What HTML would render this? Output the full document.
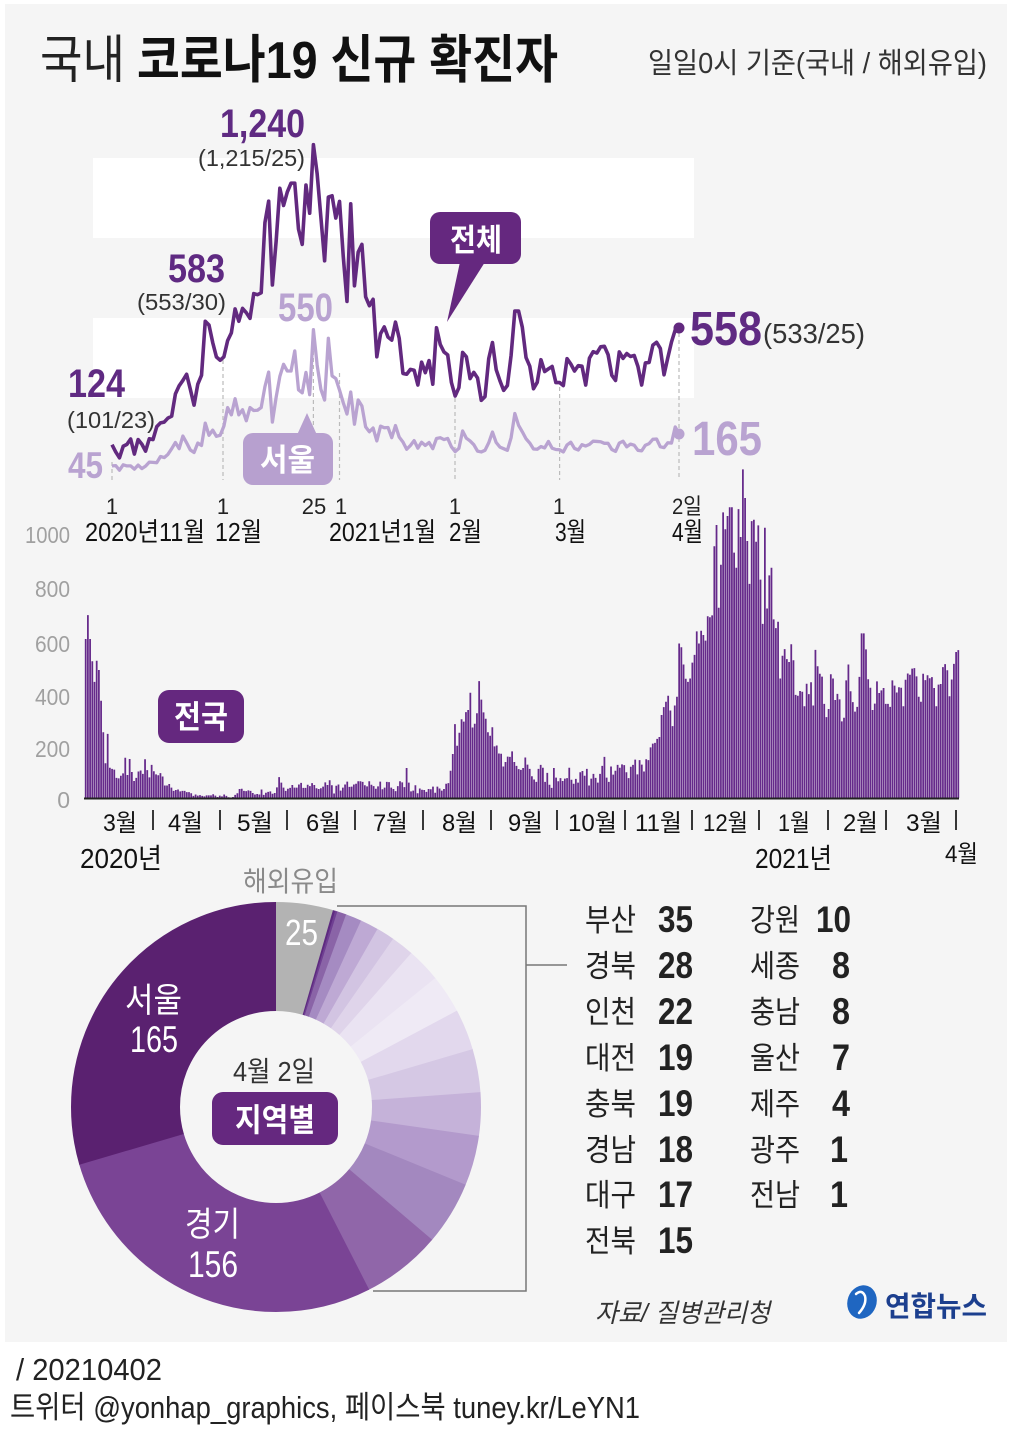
<!DOCTYPE html>
<html><head><meta charset="utf-8">
<style>
html,body{margin:0;padding:0;background:#fff;}
svg{display:block;}
text{font-family:"Liberation Sans","Noto Sans CJK KR",sans-serif;}
</style></head>
<body>
<svg width="1010" height="1443" viewBox="0 0 1010 1443" xmlns="http://www.w3.org/2000/svg">
<rect width="1010" height="1443" fill="#fff"/>
<rect x="5" y="4" width="1002" height="1338" fill="#f5f5f5"/>

<!-- Title -->
<text x="40" y="78" font-size="52" fill="#222" textLength="85" lengthAdjust="spacingAndGlyphs">국내</text>
<text x="137" y="78" font-size="52" font-weight="bold" fill="#111" textLength="421" lengthAdjust="spacingAndGlyphs">코로나19 신규 확진자</text>
<text x="648" y="73" font-size="29" fill="#333" textLength="339" lengthAdjust="spacingAndGlyphs">일일0시 기준(국내 / 해외유입)</text>

<!-- top chart bands -->
<rect x="93" y="158" width="601" height="80" fill="#fff"/>
<rect x="93" y="318" width="601" height="80" fill="#fff"/>

<!-- dashed guides -->
<g stroke="#bbb" stroke-width="1.2" stroke-dasharray="4 3">
<line x1="112" y1="462" x2="112" y2="480"/>
<line x1="223" y1="360" x2="223" y2="480"/>
<line x1="313.4" y1="330" x2="313.4" y2="480"/>
<line x1="339.5" y1="373" x2="339.5" y2="480"/>
<line x1="455" y1="398" x2="455" y2="480"/>
<line x1="559.6" y1="387" x2="559.6" y2="480"/>
<line x1="679" y1="333" x2="679" y2="480"/>
</g>

<!-- lines -->
<g transform="translate(112 478) scale(3.73 -0.2688)">
<polyline fill="none" stroke="#b9a3d1" stroke-width="3.3" stroke-linejoin="round" vector-effect="non-scaling-stroke" points="0,45 1,46 2,29 3,49 4,45 5,45 6,33 7,48 8,35 9,44 10,59 11,58 12,57 13,80 14,76 15,88 16,109 17,132 18,109 19,156 20,131 21,104 22,95 23,130 24,121 25,204 26,159 27,178 28,155 29,159 30,193 31,262 32,235 33,295 34,235 35,254 36,213 37,262 38,251 39,252 40,262 41,340 42,394 43,208 44,300 45,378 46,423 47,398 48,398 49,473 50,328 51,317 52,393 53,310 54,552 55,420 56,330 57,290 58,520 59,380 60,370 61,327 62,280 63,238 64,320 65,200 66,290 67,268 68,190 69,172 70,186 71,138 72,193 73,187 74,188 75,150 76,195 77,152 78,134 79,107 80,121 81,139 82,111 83,133 84,121 85,132 86,109 87,147 88,150 89,143 90,147 91,116 92,98 93,110 94,175 95,148 96,138 97,124 98,100 99,97 100,103 101,131 102,171 103,132 104,115 105,109 106,103 107,150 108,240 109,196 110,172 111,146 112,130 113,108 114,107 115,117 116,112 117,136 118,111 119,106 120,105 121,97 122,123 123,133 124,110 125,104 126,124 127,119 128,125 129,137 130,136 131,135 132,129 133,129 134,106 135,99 136,130 137,137 138,116 139,126 140,122 141,103 142,101 143,122 144,128 145,144 146,145 147,116 148,113 149,131 150,130 151,190 152,165"/>
<polyline fill="none" stroke="#62297f" stroke-width="3.6" stroke-linejoin="round" vector-effect="non-scaling-stroke" points="0,124 1,97 2,75 3,118 4,125 5,145 6,89 7,143 8,126 9,100 10,146 11,143 12,191 13,205 14,208 15,223 16,230 17,313 18,343 19,363 20,386 21,330 22,271 23,349 24,382 25,583 26,569 27,504 28,450 29,438 30,451 31,511 32,540 33,629 34,583 35,631 36,615 37,594 38,686 39,682 40,689 41,950 42,1030 43,718 44,880 45,1078 46,1014 47,1064 48,1097 49,1097 50,926 51,869 52,1090 53,985 54,1240 55,1132 56,970 57,808 58,1045 59,1050 60,967 61,1029 62,824 63,657 64,1020 65,715 66,840 67,869 68,674 69,641 70,665 71,451 72,537 73,562 74,524 75,513 76,580 77,520 78,389 79,386 80,404 81,401 82,346 83,431 84,392 85,437 86,349 87,559 88,497 89,469 90,458 91,355 92,305 93,336 94,467 95,451 96,370 97,393 98,372 99,289 100,303 101,444 102,504 103,403 104,362 105,326 106,344 107,457 108,621 109,621 110,561 111,448 112,416 113,332 114,356 115,440 116,396 117,406 118,415 119,355 120,355 121,344 122,444 123,424 124,398 125,418 126,416 127,346 128,446 129,470 130,465 131,488 132,490 133,459 134,382 135,363 136,469 137,445 138,463 139,452 140,456 141,415 142,346 143,428 144,430 145,494 146,505 147,482 148,384 149,447 150,506 151,551 152,558"/>
</g>
<circle cx="679" cy="328" r="5.5" fill="#62297f"/>
<circle cx="679" cy="434" r="5.5" fill="#b9a3d1"/>

<!-- top chart labels -->
<text x="220" y="137" font-size="40" font-weight="bold" fill="#5f2a82" textLength="85" lengthAdjust="spacingAndGlyphs">1,240</text>
<text x="198" y="166" font-size="23" fill="#333" textLength="107" lengthAdjust="spacingAndGlyphs">(1,215/25)</text>
<text x="168" y="282" font-size="40" font-weight="bold" fill="#5f2a82" textLength="57" lengthAdjust="spacingAndGlyphs">583</text>
<text x="137" y="310" font-size="23" fill="#333" textLength="89" lengthAdjust="spacingAndGlyphs">(553/30)</text>
<text x="68" y="397" font-size="40" font-weight="bold" fill="#5f2a82" textLength="57" lengthAdjust="spacingAndGlyphs">124</text>
<text x="67" y="428" font-size="23" fill="#333" textLength="88" lengthAdjust="spacingAndGlyphs">(101/23)</text>
<text x="68" y="478" font-size="37" font-weight="bold" fill="#b9a3d1" textLength="35" lengthAdjust="spacingAndGlyphs">45</text>
<text x="278" y="321" font-size="40" font-weight="bold" fill="#b9a3d1" textLength="55" lengthAdjust="spacingAndGlyphs">550</text>
<text x="690" y="345" font-size="48" font-weight="bold" fill="#5f2a82" textLength="72" lengthAdjust="spacingAndGlyphs">558</text>
<text x="763" y="343" font-size="28" fill="#333" textLength="102" lengthAdjust="spacingAndGlyphs">(533/25)</text>
<text x="692" y="455" font-size="48" font-weight="bold" fill="#b9a3d1" textLength="70" lengthAdjust="spacingAndGlyphs">165</text>

<!-- badges -->
<rect x="430" y="212" width="91" height="52" rx="10" fill="#65287f"/>
<polygon points="460,262 485,262 447,322" fill="#65287f"/>
<text x="450" y="251" font-size="31" font-weight="bold" fill="#fff" textLength="52" lengthAdjust="spacingAndGlyphs">전체</text>
<rect x="243" y="433" width="90" height="52" rx="10" fill="#b7a0cf"/>
<polygon points="297,435 317,435 307,413" fill="#b7a0cf"/>
<text x="260" y="471" font-size="31" font-weight="bold" fill="#fff" textLength="55" lengthAdjust="spacingAndGlyphs">서울</text>

<!-- top ticks -->
<g font-size="22" fill="#222" text-anchor="middle">
<text x="112" y="514">1</text>
<text x="223" y="514">1</text>
<text x="314" y="514">25</text>
<text x="341" y="514">1</text>
<text x="455" y="514">1</text>
<text x="559" y="514">1</text>
</g>
<text x="672" y="514" font-size="22" fill="#222" textLength="30" lengthAdjust="spacingAndGlyphs">2일</text>
<g font-size="26" fill="#111">
<text x="85" y="541" textLength="120" lengthAdjust="spacingAndGlyphs">2020년11월</text>
<text x="215" y="541" textLength="47" lengthAdjust="spacingAndGlyphs">12월</text>
<text x="329" y="541" textLength="107" lengthAdjust="spacingAndGlyphs">2021년1월</text>
<text x="449" y="541" textLength="33" lengthAdjust="spacingAndGlyphs">2월</text>
<text x="555" y="541" textLength="31" lengthAdjust="spacingAndGlyphs">3월</text>
<text x="672" y="541" textLength="31" lengthAdjust="spacingAndGlyphs">4월</text>
</g>

<!-- bar chart y labels -->
<g font-size="23" fill="#a0a0a0" text-anchor="end">
<text x="70" y="543" textLength="45" lengthAdjust="spacingAndGlyphs">1000</text>
<text x="70" y="597" textLength="35" lengthAdjust="spacingAndGlyphs">800</text>
<text x="70" y="652" textLength="35" lengthAdjust="spacingAndGlyphs">600</text>
<text x="70" y="705" textLength="35" lengthAdjust="spacingAndGlyphs">400</text>
<text x="70" y="757" textLength="35" lengthAdjust="spacingAndGlyphs">200</text>
<text x="70" y="808">0</text>
</g>

<!-- bars -->
<g transform="translate(84.6 798) scale(2.198 -0.265)">
<path fill="none" stroke="#65298a" stroke-width="0.8" d="M0.5 0V600V0m1 0V690V0m1 0V600V0m1 0V516V0m1 0V438V0m1 0V518V0m1 0V483V0m1 0V367V0m1 0V248V0m1 0V131V0m1 0V242V0m1 0V114V0m1 0V110V0m1 0V107V0m1 0V76V0m1 0V74V0m1 0V84V0m1 0V93V0m1 0V152V0m1 0V87V0m1 0V147V0m1 0V98V0m1 0V64V0m1 0V76V0m1 0V100V0m1 0V104V0m1 0V91V0m1 0V146V0m1 0V105V0m1 0V78V0m1 0V125V0
M31.5 0V101V0m1 0V89V0m1 0V86V0m1 0V94V0m1 0V81V0m1 0V47V0m1 0V47V0m1 0V53V0m1 0V39V0m1 0V27V0m1 0V30V0m1 0V32V0m1 0V25V0m1 0V27V0m1 0V27V0m1 0V22V0m1 0V22V0m1 0V18V0m1 0V8V0m1 0V13V0m1 0V9V0m1 0V11V0m1 0V8V0m1 0V6V0m1 0V10V0m1 0V10V0m1 0V10V0m1 0V14V0m1 0V9V0m1 0V4V0
M61.5 0V9V0m1 0V6V0m1 0V13V0m1 0V8V0m1 0V3V0m1 0V2V0m1 0V4V0m1 0V12V0m1 0V18V0m1 0V34V0m1 0V35V0m1 0V27V0m1 0V26V0m1 0V29V0m1 0V27V0m1 0V19V0m1 0V13V0m1 0V15V0m1 0V13V0m1 0V32V0m1 0V12V0m1 0V20V0m1 0V23V0m1 0V25V0m1 0V16V0m1 0V19V0m1 0V40V0m1 0V79V0m1 0V58V0m1 0V39V0m1 0V27V0
M92.5 0V35V0m1 0V38V0m1 0V49V0m1 0V39V0m1 0V39V0m1 0V51V0m1 0V57V0m1 0V38V0m1 0V38V0m1 0V50V0m1 0V45V0m1 0V56V0m1 0V49V0m1 0V37V0m1 0V34V0m1 0V37V0m1 0V43V0m1 0V59V0m1 0V49V0m1 0V67V0m1 0V48V0m1 0V17V0m1 0V46V0m1 0V51V0m1 0V28V0m1 0V39V0m1 0V51V0m1 0V62V0m1 0V42V0m1 0V43V0
M122.5 0V51V0m1 0V54V0m1 0V63V0m1 0V63V0m1 0V61V0m1 0V48V0m1 0V44V0m1 0V63V0m1 0V50V0m1 0V45V0m1 0V35V0m1 0V44V0m1 0V62V0m1 0V33V0m1 0V39V0m1 0V61V0m1 0V60V0m1 0V39V0m1 0V34V0m1 0V26V0m1 0V45V0m1 0V63V0m1 0V59V0m1 0V41V0m1 0V113V0m1 0V58V0m1 0V25V0m1 0V28V0m1 0V48V0m1 0V18V0m1 0V36V0
M153.5 0V31V0m1 0V30V0m1 0V23V0m1 0V34V0m1 0V33V0m1 0V43V0m1 0V20V0m1 0V43V0m1 0V36V0m1 0V28V0m1 0V34V0m1 0V54V0m1 0V56V0m1 0V103V0m1 0V166V0m1 0V279V0m1 0V197V0m1 0V246V0m1 0V297V0m1 0V288V0m1 0V324V0m1 0V332V0m1 0V397V0m1 0V266V0m1 0V280V0m1 0V320V0m1 0V441V0m1 0V371V0m1 0V323V0m1 0V299V0m1 0V248V0
M184.5 0V235V0m1 0V267V0m1 0V195V0m1 0V198V0m1 0V168V0m1 0V167V0m1 0V119V0m1 0V136V0m1 0V156V0m1 0V155V0m1 0V176V0m1 0V136V0m1 0V121V0m1 0V109V0m1 0V106V0m1 0V113V0m1 0V153V0m1 0V126V0m1 0V110V0m1 0V82V0m1 0V70V0m1 0V61V0m1 0V110V0m1 0V125V0m1 0V114V0m1 0V61V0m1 0V95V0m1 0V50V0m1 0V38V0m1 0V113V0
M214.5 0V77V0m1 0V63V0m1 0V75V0m1 0V64V0m1 0V73V0m1 0V75V0m1 0V114V0m1 0V69V0m1 0V54V0m1 0V72V0m1 0V58V0m1 0V97V0m1 0V102V0m1 0V84V0m1 0V110V0m1 0V47V0m1 0V73V0m1 0V91V0m1 0V76V0m1 0V58V0m1 0V91V0m1 0V121V0m1 0V155V0m1 0V77V0m1 0V61V0m1 0V119V0m1 0V88V0m1 0V103V0m1 0V125V0m1 0V114V0m1 0V127V0
M245.5 0V124V0m1 0V97V0m1 0V75V0m1 0V118V0m1 0V125V0m1 0V145V0m1 0V89V0m1 0V143V0m1 0V126V0m1 0V100V0m1 0V146V0m1 0V143V0m1 0V191V0m1 0V205V0m1 0V208V0m1 0V223V0m1 0V230V0m1 0V313V0m1 0V343V0m1 0V363V0m1 0V386V0m1 0V330V0m1 0V271V0m1 0V349V0m1 0V382V0m1 0V583V0m1 0V569V0m1 0V504V0m1 0V450V0m1 0V438V0
M275.5 0V451V0m1 0V511V0m1 0V540V0m1 0V629V0m1 0V583V0m1 0V631V0m1 0V615V0m1 0V594V0m1 0V686V0m1 0V682V0m1 0V689V0m1 0V950V0m1 0V1030V0m1 0V718V0m1 0V880V0m1 0V1078V0m1 0V1014V0m1 0V1064V0m1 0V1097V0m1 0V1097V0m1 0V926V0m1 0V869V0m1 0V1090V0m1 0V985V0m1 0V1240V0m1 0V1132V0m1 0V970V0m1 0V808V0m1 0V1045V0m1 0V1050V0m1 0V967V0
M306.5 0V1029V0m1 0V824V0m1 0V657V0m1 0V1020V0m1 0V715V0m1 0V840V0m1 0V869V0m1 0V674V0m1 0V641V0m1 0V665V0m1 0V451V0m1 0V537V0m1 0V562V0m1 0V524V0m1 0V513V0m1 0V580V0m1 0V520V0m1 0V389V0m1 0V386V0m1 0V404V0m1 0V401V0m1 0V346V0m1 0V431V0m1 0V392V0m1 0V437V0m1 0V349V0m1 0V559V0m1 0V497V0m1 0V469V0m1 0V458V0m1 0V355V0
M337.5 0V305V0m1 0V336V0m1 0V467V0m1 0V451V0m1 0V370V0m1 0V393V0m1 0V372V0m1 0V289V0m1 0V303V0m1 0V444V0m1 0V504V0m1 0V403V0m1 0V362V0m1 0V326V0m1 0V344V0m1 0V457V0m1 0V621V0m1 0V621V0m1 0V561V0m1 0V448V0m1 0V416V0m1 0V332V0m1 0V356V0m1 0V440V0m1 0V396V0m1 0V406V0m1 0V415V0m1 0V355V0
M365.5 0V355V0m1 0V344V0m1 0V444V0m1 0V424V0m1 0V398V0m1 0V418V0m1 0V416V0m1 0V346V0m1 0V446V0m1 0V470V0m1 0V465V0m1 0V488V0m1 0V490V0m1 0V459V0m1 0V382V0m1 0V363V0m1 0V469V0m1 0V445V0m1 0V463V0m1 0V452V0m1 0V456V0m1 0V415V0m1 0V346V0m1 0V428V0m1 0V430V0m1 0V494V0m1 0V505V0m1 0V482V0m1 0V384V0m1 0V447V0m1 0V506V0
M396.5 0V551V0m1 0V558V0"/>
</g>
<line x1="84" y1="798.5" x2="959" y2="798.5" stroke="#222" stroke-width="2"/>

<!-- 전국 badge -->
<rect x="158" y="690" width="86" height="53" rx="11" fill="#65287f"/>
<text x="174" y="728" font-size="32" font-weight="bold" fill="#fff" textLength="54" lengthAdjust="spacingAndGlyphs">전국</text>

<!-- bar month labels -->
<g font-size="24" fill="#111">
<text x="103" y="831" textLength="34" lengthAdjust="spacingAndGlyphs">3월</text>
<text x="168" y="831" textLength="35" lengthAdjust="spacingAndGlyphs">4월</text>
<text x="237" y="831" textLength="36" lengthAdjust="spacingAndGlyphs">5월</text>
<text x="306" y="831" textLength="35" lengthAdjust="spacingAndGlyphs">6월</text>
<text x="373" y="831" textLength="35" lengthAdjust="spacingAndGlyphs">7월</text>
<text x="442" y="831" textLength="35" lengthAdjust="spacingAndGlyphs">8월</text>
<text x="508" y="831" textLength="35" lengthAdjust="spacingAndGlyphs">9월</text>
<text x="568" y="831" textLength="49" lengthAdjust="spacingAndGlyphs">10월</text>
<text x="635" y="831" textLength="47" lengthAdjust="spacingAndGlyphs">11월</text>
<text x="703" y="831" textLength="45" lengthAdjust="spacingAndGlyphs">12월</text>
<text x="778" y="831" textLength="32" lengthAdjust="spacingAndGlyphs">1월</text>
<text x="843" y="831" textLength="35" lengthAdjust="spacingAndGlyphs">2월</text>
<text x="906" y="831" textLength="36" lengthAdjust="spacingAndGlyphs">3월</text>
<text x="945" y="862" textLength="33" lengthAdjust="spacingAndGlyphs">4월</text>
</g>
<g stroke="#222" stroke-width="1.8">
<line x1="153" y1="810" x2="153" y2="830"/><line x1="220" y1="810" x2="220" y2="830"/>
<line x1="287" y1="810" x2="287" y2="830"/><line x1="355" y1="810" x2="355" y2="830"/>
<line x1="423" y1="810" x2="423" y2="830"/><line x1="491" y1="810" x2="491" y2="830"/>
<line x1="557" y1="810" x2="557" y2="830"/><line x1="625" y1="810" x2="625" y2="830"/>
<line x1="692" y1="810" x2="692" y2="830"/><line x1="759" y1="810" x2="759" y2="830"/>
<line x1="828" y1="810" x2="828" y2="830"/><line x1="886" y1="810" x2="886" y2="830"/>
<line x1="956" y1="810" x2="956" y2="830"/>
</g>
<text x="80" y="868" font-size="28" fill="#111" textLength="82" lengthAdjust="spacingAndGlyphs">2020년</text>
<text x="755" y="868" font-size="28" fill="#111" textLength="77" lengthAdjust="spacingAndGlyphs">2021년</text>

<!-- Pie -->
<text x="243" y="891" font-size="28" fill="#8a8a8a" textLength="95" lengthAdjust="spacingAndGlyphs">해외유입</text>
<g transform="rotate(-90 276 1107)" fill="none" stroke-width="109">
<circle cx="276" cy="1107" r="150.5" stroke="#b3b3b3" stroke-dasharray="42.8 2000" stroke-dashoffset="0"/>
<circle cx="276" cy="1107" r="150.5" stroke="#5e2a80" stroke-dasharray="2.1 2000" stroke-dashoffset="-42.366"/>
<circle cx="276" cy="1107" r="150.5" stroke="#6f3f92" stroke-dasharray="2.1 2000" stroke-dashoffset="-44.061"/>
<circle cx="276" cy="1107" r="150.5" stroke="#8a64a7" stroke-dasharray="7.2 2000" stroke-dashoffset="-45.756"/>
<circle cx="276" cy="1107" r="150.5" stroke="#a58bc2" stroke-dasharray="12.3 2000" stroke-dashoffset="-52.534"/>
<circle cx="276" cy="1107" r="150.5" stroke="#bea9d4" stroke-dasharray="14 2000" stroke-dashoffset="-64.397"/>
<circle cx="276" cy="1107" r="150.5" stroke="#d2c4e2" stroke-dasharray="14 2000" stroke-dashoffset="-77.954"/>
<circle cx="276" cy="1107" r="150.5" stroke="#dfd4ea" stroke-dasharray="17.4 2000" stroke-dashoffset="-91.511"/>
<circle cx="276" cy="1107" r="150.5" stroke="#eae3f2" stroke-dasharray="25.9 2000" stroke-dashoffset="-108.458"/>
<circle cx="276" cy="1107" r="150.5" stroke="#efeaf5" stroke-dasharray="29.3 2000" stroke-dashoffset="-133.878"/>
<circle cx="276" cy="1107" r="150.5" stroke="#e2d8ed" stroke-dasharray="31 2000" stroke-dashoffset="-162.687"/>
<circle cx="276" cy="1107" r="150.5" stroke="#d5c8e4" stroke-dasharray="32.7 2000" stroke-dashoffset="-193.191"/>
<circle cx="276" cy="1107" r="150.5" stroke="#c5b2d9" stroke-dasharray="32.7 2000" stroke-dashoffset="-225.390"/>
<circle cx="276" cy="1107" r="150.5" stroke="#b39acc" stroke-dasharray="37.8 2000" stroke-dashoffset="-257.588"/>
<circle cx="276" cy="1107" r="150.5" stroke="#a388bf" stroke-dasharray="47.9 2000" stroke-dashoffset="-294.871"/>
<circle cx="276" cy="1107" r="150.5" stroke="#9066a9" stroke-dasharray="59.8 2000" stroke-dashoffset="-342.321"/>
<circle cx="276" cy="1107" r="150.5" stroke="#7a4495" stroke-dasharray="264.9 2000" stroke-dashoffset="-401.634"/>
<circle cx="276" cy="1107" r="150.5" stroke="#5a2170" stroke-dasharray="279.7 2000" stroke-dashoffset="-666.001"/>
</g>
<text x="285" y="945" font-size="36" fill="#fff" textLength="33" lengthAdjust="spacingAndGlyphs">25</text>
<text x="125" y="1012" font-size="34" fill="#fff" textLength="57" lengthAdjust="spacingAndGlyphs">서울</text>
<text x="130" y="1052" font-size="37" fill="#fff" textLength="48" lengthAdjust="spacingAndGlyphs">165</text>
<text x="185" y="1236" font-size="34" fill="#fff" textLength="55" lengthAdjust="spacingAndGlyphs">경기</text>
<text x="188" y="1277" font-size="37" fill="#fff" textLength="50" lengthAdjust="spacingAndGlyphs">156</text>
<text x="233" y="1081" font-size="28" fill="#333" textLength="82" lengthAdjust="spacingAndGlyphs">4월 2일</text>
<rect x="212" y="1092" width="126" height="53" rx="11" fill="#65287f"/>
<text x="235" y="1131" font-size="32" font-weight="bold" fill="#fff" textLength="80" lengthAdjust="spacingAndGlyphs">지역별</text>

<!-- bracket -->
<path d="M337 906H526V1291H373M526 965H567" fill="none" stroke="#777" stroke-width="1.5"/>

<!-- legend -->
<g font-size="31" fill="#222">
<text x="585" y="931" textLength="51" lengthAdjust="spacingAndGlyphs">부산</text>
<text x="585" y="977" textLength="51" lengthAdjust="spacingAndGlyphs">경북</text>
<text x="585" y="1023" textLength="51" lengthAdjust="spacingAndGlyphs">인천</text>
<text x="585" y="1069" textLength="51" lengthAdjust="spacingAndGlyphs">대전</text>
<text x="585" y="1115" textLength="51" lengthAdjust="spacingAndGlyphs">충북</text>
<text x="585" y="1161" textLength="51" lengthAdjust="spacingAndGlyphs">경남</text>
<text x="585" y="1206" textLength="51" lengthAdjust="spacingAndGlyphs">대구</text>
<text x="585" y="1252" textLength="51" lengthAdjust="spacingAndGlyphs">전북</text>
<text x="750" y="931" textLength="50" lengthAdjust="spacingAndGlyphs">강원</text>
<text x="750" y="977" textLength="50" lengthAdjust="spacingAndGlyphs">세종</text>
<text x="750" y="1023" textLength="50" lengthAdjust="spacingAndGlyphs">충남</text>
<text x="750" y="1069" textLength="50" lengthAdjust="spacingAndGlyphs">울산</text>
<text x="750" y="1115" textLength="50" lengthAdjust="spacingAndGlyphs">제주</text>
<text x="750" y="1161" textLength="50" lengthAdjust="spacingAndGlyphs">광주</text>
<text x="750" y="1206" textLength="50" lengthAdjust="spacingAndGlyphs">전남</text>
</g>
<g font-size="37" font-weight="bold" fill="#222">
<text x="658" y="932" textLength="35" lengthAdjust="spacingAndGlyphs">35</text>
<text x="658" y="978" textLength="35" lengthAdjust="spacingAndGlyphs">28</text>
<text x="658" y="1024" textLength="35" lengthAdjust="spacingAndGlyphs">22</text>
<text x="658" y="1070" textLength="35" lengthAdjust="spacingAndGlyphs">19</text>
<text x="658" y="1116" textLength="35" lengthAdjust="spacingAndGlyphs">19</text>
<text x="658" y="1162" textLength="35" lengthAdjust="spacingAndGlyphs">18</text>
<text x="658" y="1207" textLength="35" lengthAdjust="spacingAndGlyphs">17</text>
<text x="658" y="1253" textLength="35" lengthAdjust="spacingAndGlyphs">15</text>
<text x="816" y="932" textLength="35" lengthAdjust="spacingAndGlyphs">10</text>
<text x="832" y="978" textLength="18" lengthAdjust="spacingAndGlyphs">8</text>
<text x="832" y="1024" textLength="18" lengthAdjust="spacingAndGlyphs">8</text>
<text x="832" y="1070" textLength="18" lengthAdjust="spacingAndGlyphs">7</text>
<text x="832" y="1116" textLength="18" lengthAdjust="spacingAndGlyphs">4</text>
<text x="830" y="1162" textLength="18" lengthAdjust="spacingAndGlyphs">1</text>
<text x="830" y="1207" textLength="18" lengthAdjust="spacingAndGlyphs">1</text>
</g>

<!-- source & logo -->
<text x="595" y="1322" font-size="26" font-style="italic" fill="#333" textLength="175" lengthAdjust="spacingAndGlyphs">자료/ 질병관리청</text>
<ellipse cx="862" cy="1302" rx="14.5" ry="17" transform="rotate(20 862 1302)" fill="#1f66c1"/>
<path d="M856 1294q6-5 9 2q2 8-6 17" fill="none" stroke="#fff" stroke-width="2.5" stroke-linecap="round"/>
<text x="885" y="1316" font-size="28" font-weight="bold" fill="#1c3f8e" textLength="102" lengthAdjust="spacingAndGlyphs">연합뉴스</text>

<!-- footer -->
<text x="16" y="1380" font-size="31" fill="#222" textLength="146" lengthAdjust="spacingAndGlyphs">/ 20210402</text>
<text x="10" y="1418" font-size="31" fill="#222" textLength="630" lengthAdjust="spacingAndGlyphs">트위터 @yonhap_graphics, 페이스북 tuney.kr/LeYN1</text>
</svg>
</body></html>
